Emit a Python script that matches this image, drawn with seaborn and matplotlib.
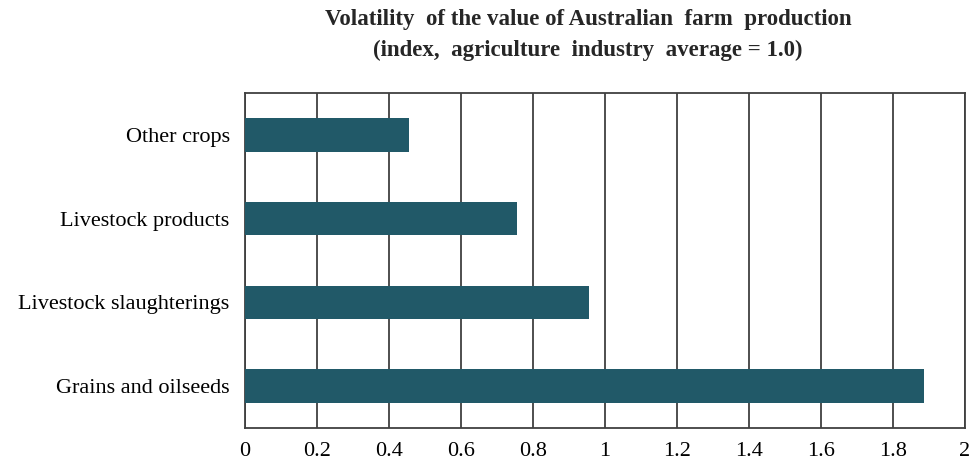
import matplotlib
matplotlib.use("Agg")
import matplotlib.pyplot as plt
import seaborn as sns
import pandas as pd

categories = ["Other crops", "Livestock products", "Livestock slaughterings", "Grains and oilseeds"]
values = [0.455, 0.755, 0.955, 1.885]
xticks = [0, 0.2, 0.4, 0.6, 0.8, 1.0, 1.2, 1.4, 1.6, 1.8, 2.0]
xtick_labels = ["0", "0.2", "0.4", "0.6", "0.8", "1", "1.2", "1.4", "1.6", "1.8", "2"]

df = pd.DataFrame({"category": categories, "value": values})

sns.set_style("white")
plt.rcParams["font.family"] = ["Liberation Serif", "DejaVu Serif"]

fig = plt.figure(figsize=(9.71, 4.62), dpi=100)
ax = fig.add_axes([245 / 971, 1 - 428 / 462, 720 / 971, 335 / 462])

sns.barplot(data=df, x="value", y="category", color="#215968", saturation=1,
            width=0.4, linewidth=0, ax=ax, zorder=3)

ax.set_xlim(0, 2)
ax.set_xticks(xticks)
ax.set_xticklabels(xtick_labels)
ax.grid(axis="x", color="#404040", linewidth=1.3, zorder=0)
ax.grid(axis="y", visible=False)
ax.set_axisbelow(True)
for s in ax.spines.values():
    s.set_color("#404040")
    s.set_linewidth(1.3)
ax.tick_params(axis="both", length=0, labelsize=16, colors="black")
ax.tick_params(axis="x", pad=10)
ax.tick_params(axis="y", pad=11)
ax.set_xlabel("")
ax.set_ylabel("")

fig.text(588 / 971, 1 - 35 / 462,
         "Volatility  of the value of Australian  farm  production\n(index,  agriculture  industry  average = 1.0)",
         ha="center", va="center", fontsize=16.5, fontweight="bold", linespacing=1.6)

fig.savefig("out.png", dpi=100)
